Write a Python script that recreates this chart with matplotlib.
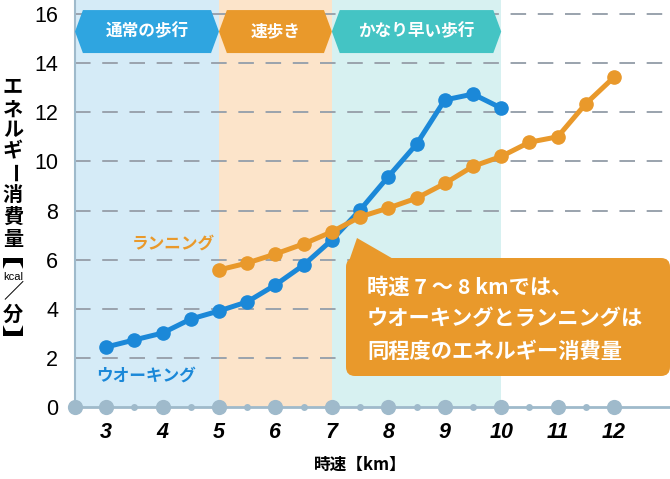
import matplotlib
matplotlib.use('Agg')
import matplotlib.pyplot as plt
from matplotlib.patches import Polygon, FancyBboxPatch
from matplotlib.transforms import Affine2D

plt.rcParams['font.family'] = ['Noto Sans CJK JP', 'DejaVu Sans']

# data
walk_speed = [3, 3.5, 4, 4.5, 5, 5.5, 6, 6.5, 7, 7.5, 8, 8.5, 9, 9.5, 10]
walk_kcal = [2.44, 2.73, 3.01, 3.58, 3.91, 4.28, 4.97, 5.78, 6.8, 8.02, 9.38, 10.7, 12.5, 12.74, 12.17]
run_speed = [5, 5.5, 6, 6.5, 7, 7.5, 8, 8.5, 9, 9.5, 10, 10.5, 11, 11.5, 12]
run_kcal = [5.58, 5.86, 6.23, 6.64, 7.13, 7.74, 8.1, 8.5, 9.1, 9.8, 10.2, 10.78, 11.0, 12.35, 13.43]
x_ticks = [3, 4, 5, 6, 7, 8, 9, 10, 11, 12]
y_ticks = [0, 2, 4, 6, 8, 10, 12, 14, 16]
zones = [(2.45, 5, '通常の歩行'), (5, 7, '速歩き'), (7, 10, 'かなり早い歩行')]

BLUE = '#1b88d8'
ORANGE = '#e9992b'
zone_bg = ['#d5ebf7', '#fce4ca', '#d7f1f1']
zone_fg = ['#2fa5e0', '#e9992b', '#44c4c4']
AXC = '#9fbacb'

fig = plt.figure(figsize=(6.7, 4.79), dpi=100)
ax = fig.add_axes([75/670, 72/479, 595/670, 407/479])
ax.set_xlim(2.45, 12.99)
ax.set_ylim(0, 16.57)

# pixel transform for decorations (origin bottom-left)
px = Affine2D().scale(1/670, 1/479) + fig.transFigure

for (x0, x1, name), bg, fg in zip(zones, zone_bg, zone_fg):
    ax.axvspan(x0, x1, color=bg, lw=0, zorder=0)
    d = 0.14
    top, bot = 16.16, 14.41
    mid = (top + bot) / 2
    ax.add_patch(Polygon([(x0, mid), (x0 + d, top), (x1 - d, top), (x1, mid),
                          (x1 - d, bot), (x0 + d, bot)], closed=True,
                         color=fg, lw=0, zorder=3))
    ax.text((x0 + x1) / 2, mid, name, color='white', fontsize=12,
            fontweight='bold', ha='center', va='center', zorder=4)

for y in y_ticks[1:]:
    ax.axhline(y, color='#9aa3ad', lw=1.4, ls=(0, (8, 6)), zorder=1)

ax.plot(walk_speed, walk_kcal, color=BLUE, lw=3.6, marker='o', ms=9.5, zorder=5)
ax.plot(run_speed, run_kcal, color=ORANGE, lw=3.6, marker='o', ms=9.5, zorder=5)

ax.text(4.2, 6.64, 'ランニング', color=ORANGE, fontsize=12, fontweight='bold',
        ha='center', va='center', zorder=6)
ax.text(3.71, 1.27, 'ウオーキング', color=BLUE, fontsize=12, fontweight='bold',
        ha='center', va='center', zorder=6)

# axis styling
for s in ['top', 'right']:
    ax.spines[s].set_visible(False)
ax.spines['bottom'].set_color(AXC)
ax.spines['bottom'].set_linewidth(2)
ax.spines['left'].set_color(AXC)
ax.spines['left'].set_linewidth(1.5)
ax.scatter([2.45] + x_ticks, [0] * (len(x_ticks) + 1), s=120, color=AXC,
           clip_on=False, zorder=6, lw=0)
ax.scatter([x + 0.5 for x in x_ticks[:-1]], [0] * (len(x_ticks) - 1), s=25,
           color=AXC, clip_on=False, zorder=6, lw=0)

ax.set_xticks(x_ticks)
ax.set_xticklabels([str(v) for v in x_ticks], fontsize=15.5, fontweight='bold',
                   fontstyle='italic', family='Liberation Sans')
ax.set_yticks(y_ticks)
ax.set_yticklabels([str(v) for v in y_ticks], fontsize=15.5, family='Liberation Sans')
ax.tick_params(axis='x', length=0, pad=11)
ax.tick_params(axis='y', length=0, pad=12)

fig.text(360/670, 1 - 465/479, '時速【km】', fontsize=12, fontweight='bold',
         ha='center', va='center')

# vertical y label
ylab = [('エ', 87), ('ネ', 109), ('ル', 130), ('ギ', 151), ('ー', 173),
        ('消', 194), ('費', 216), ('量', 238), ('／', 292), ('分', 314)]
for ch, yy in ylab:
    fig.text(13, 479 - yy, ch, transform=px, fontsize=14.5, fontweight='bold',
             ha='center', va='center', rotation=-90 if ch == 'ー' else 0)
fig.text(13, 479 - 277, 'kcal', transform=px, fontsize=8, family='Liberation Sans',
         ha='center', va='center')
# rotated lenticular brackets drawn as shapes
top_br = [(3, 258), (23, 258), (23, 269), (20, 263), (6, 263), (3, 269)]
bot_br = [(3, 336), (23, 336), (23, 325), (20, 331), (6, 331), (3, 325)]
for br in (top_br, bot_br):
    fig.add_artist(Polygon([(x, 479 - y) for x, y in br], closed=True,
                           color='black', lw=0, transform=px))

# callout
fig.add_artist(Polygon([(357, 479 - 238), (348, 479 - 264), (402, 479 - 264)],
                       closed=True, color=ORANGE, lw=0, transform=px, zorder=7))
fig.add_artist(FancyBboxPatch((346, 479 - 376), 324, 118,
                              boxstyle='round,pad=0,rounding_size=9',
                              color=ORANGE, lw=0, transform=px, zorder=7))
callout = ['時速 7 〜 8 kmでは、', 'ウオーキングとランニングは', '同程度のエネルギー消費量']
for i, line in enumerate(callout):
    fig.text(367, 479 - (287 + 32 * i), line, transform=px, color='white',
             fontsize=15.3, fontweight='bold', ha='left', va='center', zorder=8)

fig.savefig('out.png', dpi=100)
